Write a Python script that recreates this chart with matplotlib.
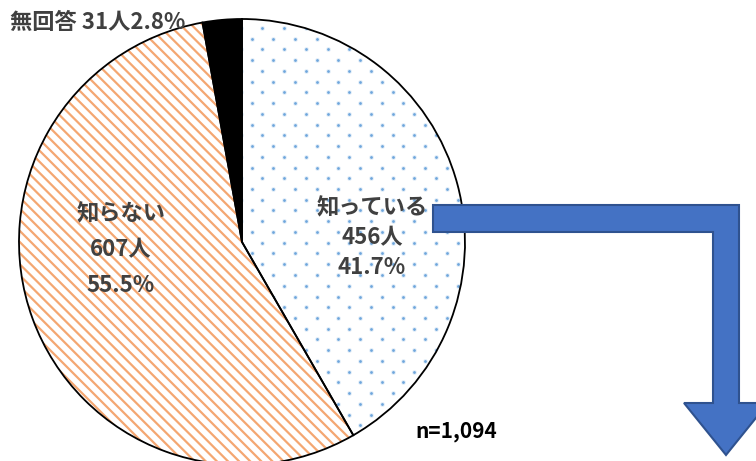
import numpy as np
import matplotlib
matplotlib.use('Agg')
import matplotlib.pyplot as plt
from matplotlib.patches import Polygon

categories = ['知っている', '知らない', '無回答']
counts = [456, 607, 31]
percents = [41.7, 55.5, 2.8]
n_total = 1094

W, H = 756, 461
plt.rcParams['font.family'] = ['Noto Sans CJK JP', 'DejaVu Sans']
plt.rcParams['hatch.linewidth'] = 1.6

fig = plt.figure(figsize=(W / 100, H / 100), dpi=100)
ax = fig.add_axes([0, 0, 1, 1])
cx, cy, R = 242, H - 242, 223

wedges, _ = ax.pie(counts, startangle=90, counterclock=False, center=(cx, cy), radius=R,
                   colors=['white', 'white', 'black'],
                   wedgeprops=dict(linewidth=0, zorder=1))
wedges[1].set_hatch('\\\\\\')
wedges[1].set_edgecolor('#f4a772')

# outlines
ax.pie(counts, startangle=90, counterclock=False, center=(cx, cy), radius=R,
       wedgeprops=dict(fill=False, edgecolor='black', linewidth=1.3, zorder=3))

# dotted pattern for the first wedge
xs = np.arange(295 - 21.7 * 6, 480, 21.7)
ys = np.arange(60 - 21.5 * 3, 480, 21.5)
X1, Y1 = np.meshgrid(xs, ys)
X2, Y2 = X1 - 10.85, Y1 + 10.75
px = np.concatenate([X1.ravel(), X2.ravel()])
py = H - np.concatenate([Y1.ravel(), Y2.ravel()])
halo = ax.scatter(px, py, s=12, color='#e3eef8', linewidths=0, zorder=2)
halo.set_clip_path(wedges[0])
sc = ax.scatter(px, py, s=4, color='#6fa6dc', linewidths=0, zorder=2)
sc.set_clip_path(wedges[0])

# elbow arrow
pts = [(433, 205), (739, 205), (739, 403), (768, 403), (726, 455),
       (684, 403), (713, 403), (713, 232), (433, 232)]
arrow = Polygon([(x, H - y) for x, y in pts], closed=True, facecolor='#4472c4',
                edgecolor='#2f528f', linewidth=1.5, zorder=4)
ax.add_patch(arrow)

tc = '#404040'
ax.text(10, H - 22, f'{categories[2]} {counts[2]}人{percents[2]}%', ha='left', va='center',
        fontsize=16, weight='bold', color=tc, zorder=5)

for x, ys_, i in [(372, (208, 238, 268), 0), (121, (214, 250, 285), 1)]:
    ax.text(x, H - ys_[0], categories[i], ha='center', va='center', fontsize=16,
            weight='bold', color=tc, zorder=5)
    ax.text(x, H - ys_[1], f'{counts[i]}人', ha='center', va='center', fontsize=16,
            weight='bold', color=tc, zorder=5)
    ax.text(x, H - ys_[2], f'{percents[i]}%', ha='center', va='center', fontsize=16,
            weight='bold', color=tc, zorder=5)

ax.text(415, H - 432, f'n={n_total:,}', ha='left', va='center', fontsize=15,
        weight='bold', color='black', zorder=5)

ax.set_xlim(0, W)
ax.set_ylim(0, H)
ax.axis('off')
fig.savefig('out.png', dpi=100)
